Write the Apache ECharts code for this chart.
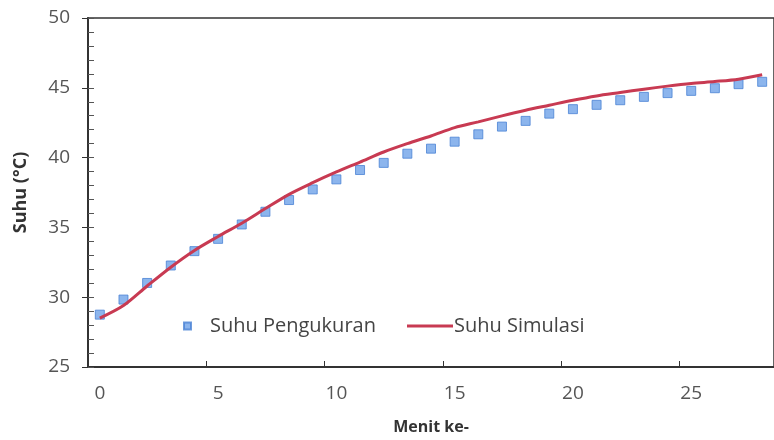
<!DOCTYPE html>
<html>
<head>
<meta charset="utf-8">
<script src="https://cdn.jsdelivr.net/npm/echarts@6/dist/echarts.min.js"></script>
<style>
html,body{margin:0;padding:0;background:#fff;}
#c{width:774px;height:440px;}
</style>
</head>
<body>
<div id="c"></div>
<script>
const minutes = ['0','1','2','3','4','5','6','7','8','9','10','11','12','13','14','15','16','17','18','19','20','21','22','23','24','25','26','27','28'];
const suhuPengukuran = [28.75,29.83,31.02,32.27,33.30,34.18,35.21,36.12,36.96,37.72,38.44,39.11,39.62,40.28,40.64,41.14,41.67,42.22,42.63,43.15,43.47,43.78,44.11,44.35,44.62,44.78,44.97,45.26,45.43];
const suhuSimulasi = [28.5,29.4,30.8,32.15,33.35,34.35,35.3,36.35,37.37,38.2,38.97,39.68,40.4,41.0,41.55,42.15,42.56,42.99,43.39,43.75,44.11,44.42,44.66,44.9,45.12,45.31,45.45,45.62,45.93];
const yTicks = {min:25, max:50, step:5, minorStep:1};

const FONT = '"Open Sans", sans-serif';
const chart = echarts.init(document.getElementById('c'), null, {renderer:'canvas'});
chart.setOption({
  animation:false,
  backgroundColor:'#fff',
  grid:{left:88, top:18, width:699, height:349, show:true, borderColor:'#333', borderWidth:1.5, backgroundColor:'transparent'},
  legend:[
    {left:178, top:311, itemWidth:7, itemHeight:7, icon:'rect', data:['Suhu Pengukuran'],
     textStyle:{fontFamily:FONT, fontSize:20, color:'#444', padding:[0,0,0,14]}},
    {left:402, top:311, itemWidth:46, itemHeight:3, icon:'rect', itemGap:0, data:['Suhu Simulasi'],
     textStyle:{fontFamily:FONT, fontSize:20, color:'#444', padding:[0,0,0,-4]}}
  ],
  xAxis:{
    type:'category', data:minutes, boundaryGap:true,
    name:'Menit ke-', nameLocation:'middle', nameGap:52,
    nameTextStyle:{fontFamily:FONT, fontSize:16, fontWeight:'bold', color:'#333'},
    axisLine:{lineStyle:{color:'#333', width:2}},
    axisTick:{show:true, inside:true, length:6, interval:4, lineStyle:{color:'#333'}},
    axisLabel:{interval:4, margin:17, fontFamily:FONT, fontSize:19, color:'#555'},
    splitLine:{show:false}
  },
  yAxis:[{
    type:'value', min:yTicks.min, max:yTicks.max, interval:yTicks.step,
    name:'Suhu (°C)', nameLocation:'middle', nameGap:58,
    nameTextStyle:{fontFamily:FONT, fontSize:18, fontWeight:'bold', color:'#333'},
    axisLine:{show:true, lineStyle:{color:'#333', width:2}},
    axisTick:{show:true, inside:false, length:6, lineStyle:{color:'#333'}},
    axisLabel:{margin:18, fontFamily:FONT, fontSize:19, color:'#555'},
    splitLine:{show:false}
  },{
    type:'value', min:yTicks.min, max:yTicks.max, interval:yTicks.minorStep, position:'left',
    axisLine:{show:false},
    axisTick:{show:true, inside:true, length:6, lineStyle:{color:'#555'}},
    axisLabel:{show:false},
    splitLine:{show:false}
  }],
  series:[
    {name:'Suhu Pengukuran', type:'scatter', data:suhuPengukuran, symbol:'rect', symbolSize:9,
     itemStyle:{color:'#6fa3e8', borderColor:'#4a82d4', borderWidth:1}, z:2},
    {name:'Suhu Simulasi', type:'line', data:suhuSimulasi, smooth:0.3, showSymbol:false, symbol:'none',
     lineStyle:{color:'#c83a52', width:3}, itemStyle:{color:'#c83a52'}, z:3}
  ]
});
</script>
</body>
</html>
